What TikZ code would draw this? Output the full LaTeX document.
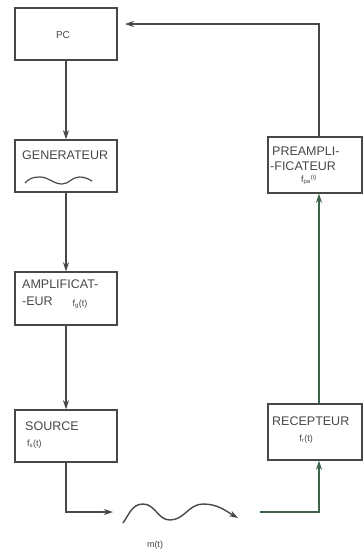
\documentclass[tikz,border=0pt]{standalone}
\usepackage{fontspec}
\setmainfont{Liberation Sans}
\usetikzlibrary{arrows.meta}
\definecolor{ink}{RGB}{72,72,72}
\definecolor{gink}{RGB}{60,100,72}
\begin{document}
\begin{tikzpicture}[x=1pt,y=-1pt,
  box/.style={draw=ink,line width=1.4pt,minimum width=102pt,minimum height=52pt,inner sep=0pt},
  rbox/.style={draw=ink,line width=1.4pt,minimum width=94pt,minimum height=56pt,inner sep=0pt},
  lbl/.style={anchor=west,inner sep=0pt,font=\fontsize{12.5}{14}\selectfont,text=ink},
  sm/.style={inner sep=0pt,font=\fontsize{9}{10}\selectfont,text=ink},
  conn/.style={draw=ink,line width=1.3pt,-{Stealth[length=9pt,width=6pt]}},
  gconn/.style={draw=gink,line width=1.3pt,-{Stealth[length=9pt,width=6pt]}},
  wave/.style={draw=ink,line width=1.2pt}
]
\useasboundingbox (0,0) rectangle (364,550);
\fill[white] (0,0) rectangle (364,550);

% boxes
\node[box] (pc)  at (66,34) {};
\node[box] (gen) at (66,166) {};
\node[box,minimum height=53pt] (amp) at (66,298.5) {};
\node[box] (src) at (66,436) {};
\node[rbox] (pre) at (315,165) {};
\node[rbox] (rec) at (315,432) {};

% labels
\node[sm,font=\fontsize{10}{11}\selectfont] (tpc) at (63,35) {PC};
\node[lbl] (tgen) at (22,155) {GENERATEUR};
\node[lbl] (tamp1) at (22,284) {AMPLIFICAT-};
\node[lbl] (tamp2) at (22,301) {-EUR};
\node[sm] (famp) at (80,304) {f\textsubscript{g}(t)};
\node[lbl] (tsrc) at (25,426) {SOURCE};
\node[sm,anchor=west] (fsrc) at (27,444) {f\textsubscript{s}(t)};
\node[lbl] (tpre1) at (272,151) {PREAMPLI-};
\node[lbl] (tpre2) at (270,166) {-FICATEUR};
\node[sm] (fpre) at (309,180) {f\textsubscript{pa}\textsuperscript{(t)}};
\node[lbl] (trec) at (272,421) {RECEPTEUR};
\node[sm] (frec) at (306,439) {f\textsubscript{r}(t)};
\node[sm] (tm) at (155,545) {m(t)};

% generator wave
\draw[wave] (25,183) to[out=50,in=180] (40,177) to[out=0,in=180] (62,184)
  to[out=0,in=180] (79,177) to[out=0,in=150] (92,181);

% coordinates
\coordinate (c1) at (67,512);
\coordinate (a1) at (113,512);
\coordinate (w0) at (123,523);
\coordinate (w1) at (238,518);
\coordinate (b1) at (260,512);
\coordinate (rx) at (319,512);
\coordinate (tr) at (319,24);
\coordinate (pcin) at (125,24);

% left chain
\draw[conn] (pc.south) -- (gen.north);
\draw[conn] (gen.south) -- (amp.north);
\draw[conn] (amp.south) -- (src.north);
\draw[conn] (src.south) |- (a1);

% channel wave
\draw[conn,line width=1.4pt] (w0) to[out=55,in=180] (143,504) to[out=0,in=180] (170,520)
  to[out=0,in=180] (203,504) to[out=0,in=150] (w1);

% right chain
\draw[gconn] (b1) -| (rec.south -| rx);
\draw[gconn] (rec.north -| rx) -- (pre.south -| rx);
\draw[conn] (pre.north -| tr) -- (tr) -- (pcin);
\end{tikzpicture}
\end{document}
